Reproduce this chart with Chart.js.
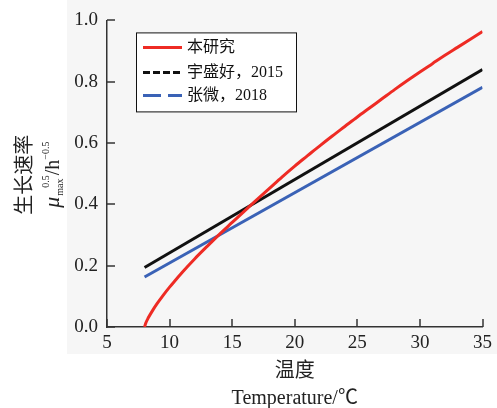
<!DOCTYPE html>
<html><head><meta charset="utf-8">
<script src="https://cdn.jsdelivr.net/npm/chart.js@4.4.1/dist/chart.umd.min.js"></script>
<style>html,body{margin:0;padding:0;background:#fff;}#wrap{width:497px;height:408px;}</style>
</head><body><div id="wrap"><canvas id="c" width="497" height="408"></canvas></div>
<script>
// ---- data ----
const redX = [8.0, 8.1, 8.3, 8.6, 9, 9.5, 10, 10.5, 11, 12, 13, 14, 15, 16, 17, 18, 19, 20, 21, 22, 23, 24, 25, 26, 27, 28, 29, 30, 31, 32, 33, 34, 35];
const redY = [0, 0.013, 0.030, 0.051, 0.076, 0.104, 0.130, 0.154, 0.178, 0.222, 0.263, 0.303, 0.341, 0.379, 0.416, 0.453, 0.490, 0.525, 0.558, 0.591, 0.623, 0.654, 0.685, 0.715, 0.745, 0.775, 0.804, 0.832, 0.859, 0.886, 0.912, 0.938, 0.964];
const blackX = [8, 35];
const blackY = [0.194, 0.840];
const blueX = [8, 35];
const blueY = [0.163, 0.782];
const seriesNames = ['本研究', '宇盛好，2015', '张微，2018'];
const xTicks = [5, 10, 15, 20, 25, 30, 35];
const yTickLabels = ['0.0', '0.2', '0.4', '0.6', '0.8', '1.0'];
const xTitle = ['温度', 'Temperature/℃'];
const yTitleCn = '生长速率';

const toPts = (xs, ys) => xs.map((x, i) => ({x: x, y: ys[i]}));
const SERIF = '"Liberation Serif", "Times New Roman", serif';
const CJK = '"Liberation Serif", "Noto Sans CJK SC", serif';
const seriesColors = ['#ee2b24', '#111111', '#3a62b6'];
const legendDash = [[], [7, 3], [18, 7]];

const bgPlugin = {
  id: 'bg',
  beforeDraw(chart) {
    const {ctx, chartArea: a} = chart;
    ctx.save();
    ctx.fillStyle = '#f6f6f6';
    ctx.fillRect(a.left - 40, 0, chart.width - (a.left - 40), a.bottom + 27);
    ctx.restore();
  }
};

const tickPlugin = {
  id: 'inTicks',
  afterDatasetsDraw(chart) {
    const ctx = chart.ctx;
    const a = chart.chartArea;
    const sx = chart.scales.x, sy = chart.scales.y;
    ctx.save();
    ctx.setLineDash([]);
    ctx.strokeStyle = '#333333';
    ctx.lineWidth = 1.5;
    xTicks.forEach(v => {
      const px = Math.round(sx.getPixelForValue(v));
      ctx.beginPath();
      ctx.moveTo(px, a.bottom);
      ctx.lineTo(px, a.bottom - 8);
      ctx.stroke();
    });
    yTickLabels.forEach((_, i) => {
      const py = Math.round(sy.getPixelForValue(i * 0.2));
      ctx.beginPath();
      ctx.moveTo(a.left, py);
      ctx.lineTo(a.left + 8, py);
      ctx.stroke();
    });
    ctx.restore();
  }
};

const legendPlugin = {
  id: 'boxLegend',
  afterDatasetsDraw(chart) {
    const {ctx, chartArea: a} = chart;
    const L = a.left + 29, T = a.top + 12, W = 160, H = 79;
    ctx.save();
    ctx.fillStyle = '#ffffff';
    ctx.fillRect(L, T, W, H);
    ctx.strokeStyle = '#111';
    ctx.lineWidth = 1;
    ctx.strokeRect(L + 0.5, T + 0.5, W, H);
    const rows = [15, 40, 63];
    seriesNames.forEach((name, i) => {
      const y = T + rows[i];
      ctx.strokeStyle = seriesColors[i];
      ctx.lineWidth = 3;
      ctx.setLineDash(legendDash[i]);
      ctx.beginPath();
      ctx.moveTo(L + 7, y);
      ctx.lineTo(L + 46, y);
      ctx.stroke();
      ctx.setLineDash([]);
      ctx.fillStyle = '#111';
      ctx.font = '16px ' + CJK;
      ctx.textBaseline = 'middle';
      ctx.textAlign = 'left';
      ctx.fillText(name, L + 51, y);
    });
    ctx.restore();
  }
};

const yTitlePlugin = {
  id: 'yTitle',
  afterDraw(chart) {
    const {ctx, chartArea: a} = chart;
    const cy = (a.top + a.bottom) / 2 + 1;
    ctx.save();
    ctx.fillStyle = '#222';
    ctx.translate(33, cy);
    ctx.rotate(-Math.PI / 2);
    ctx.font = '20px "Noto Sans CJK SC", sans-serif';
    ctx.textAlign = 'center';
    ctx.textBaseline = 'alphabetic';
    ctx.fillText(yTitleCn, 0, -2);
    ctx.restore();
    ctx.save();
    ctx.fillStyle = '#222';
    ctx.translate(59, cy);
    ctx.rotate(-Math.PI / 2);
    ctx.textAlign = 'left';
    ctx.textBaseline = 'alphabetic';
    const big = '20px ' + SERIF, bigI = 'italic 22px ' + SERIF, small = '10px ' + SERIF;
    let total = 0;
    ctx.font = bigI; total += ctx.measureText('μ').width + 1;
    ctx.font = small; const mw = ctx.measureText('max').width; total += Math.max(mw, ctx.measureText('0.5').width + 8);
    ctx.font = big; total += ctx.measureText('/h').width;
    ctx.font = small; total += ctx.measureText('−0.5').width;
    let x = -total / 2;
    ctx.font = bigI; ctx.fillText('μ', x, 0); x += ctx.measureText('μ').width + 1;
    ctx.font = small; ctx.fillText('max', x, 4);
    ctx.fillText('0.5', x + 8, -10);
    x += Math.max(mw, ctx.measureText('0.5').width + 8);
    ctx.font = big; ctx.fillText('/h', x, 0); x += ctx.measureText('/h').width;
    ctx.font = small; ctx.fillText('−0.5', x, -10);
    ctx.restore();
  }
};

new Chart(document.getElementById('c'), {
  type: 'line',
  data: {
    datasets: [
      {label: seriesNames[0], data: toPts(redX, redY), borderColor: seriesColors[0], borderWidth: 3, pointRadius: 0, cubicInterpolationMode: 'monotone', fill: false},
      {label: seriesNames[1], data: toPts(blackX, blackY), borderColor: seriesColors[1], borderWidth: 3, pointRadius: 0, fill: false},
      {label: seriesNames[2], data: toPts(blueX, blueY), borderColor: seriesColors[2], borderWidth: 3, pointRadius: 0, fill: false}
    ]
  },
  options: {
    responsive: false,
    animation: false,
    devicePixelRatio: 1,
    layout: {padding: {top: 19, right: 14, left: 0, bottom: 0}},
    plugins: {legend: {display: false}, tooltip: {enabled: false}, title: {display: false}},
    scales: {
      x: {
        type: 'linear', min: 5, max: 35,
        afterFit(s) { s.height = 81; },
        afterBuildTicks(s) { s.ticks = xTicks.map(v => ({value: v})); },
        ticks: {font: {family: SERIF, size: 19}, color: '#222', padding: 5, maxRotation: 0, autoSkip: false,
          callback: (v) => String(v)},
        grid: {display: false, drawTicks: false},
        border: {display: true, color: '#333', width: 1.5},
        title: {display: true, text: xTitle, color: '#222', font: {family: CJK, size: 20, lineHeight: 1.35}, padding: {top: 0, bottom: -4}}
      },
      y: {
        min: 0, max: 1,
        afterFit(s) { s.width = 107; },
        afterBuildTicks(s) { s.ticks = yTickLabels.map((_, i) => ({value: i * 0.2})); },
        ticks: {font: {family: SERIF, size: 19}, color: '#222', padding: 9, autoSkip: false,
          callback: (v, i) => yTickLabels[i]},
        grid: {display: false, drawTicks: false},
        border: {display: true, color: '#333', width: 1.5}
      }
    }
  },
  plugins: [bgPlugin, tickPlugin, legendPlugin, yTitlePlugin]
});
</script>
</body></html>
